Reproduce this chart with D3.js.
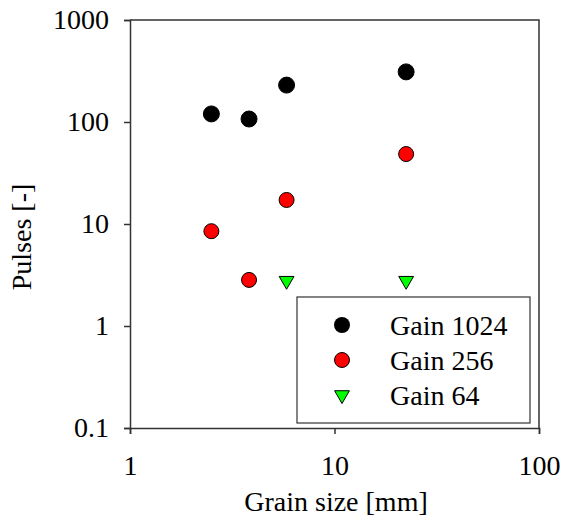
<!DOCTYPE html>
<html lang="en">
    <head>
        <meta charset="utf-8" />
        <title>Pulses vs grain size</title>
        <style>
            body { margin: 0; background: #fff; }
            svg text { font-family: "Liberation Serif", "Times New Roman", serif; fill: #000; }
            .axis path, .axis line { stroke: #333; stroke-width: 1.5; }
        </style>
        <script type="text/javascript" src="https://cdn.jsdelivr.net/npm/d3@7"></script>
    </head>
    <body>
        <script type="text/javascript">
            // values
            var grainSize = [2.5, 3.82, 5.83, 22.4];
            var gain1024 = [120, 107, 230, 310];
            var gain256 = [8.5, 2.83, 17.2, 48.5];
            var gain64Size = [5.83, 22.4];
            var gain64 = [2.78, 2.78];
            var xTicks = [1, 10, 100];
            var yTicks = [0.1, 1, 10, 100, 1000];
            var seriesNames = ['Gain 1024', 'Gain 256', 'Gain 64'];

            var width = 563,
                height = 526,
                plotLeft = 130, plotRight = 539, plotTop = 20, plotBottom = 428;

            var x = d3.scaleLog().domain([1, 100]).range([plotLeft, plotRight]);
            var y = d3.scaleLog().domain([0.1, 1000]).range([plotBottom, plotTop]);

            var svg = d3.select('body')
                        .append('svg')
                        .attr('width', width)
                        .attr('height', height);

            // frame (top and right without ticks)
            svg.append('path')
                .attr('d', 'M' + plotLeft + ',' + plotTop + 'H' + plotRight + 'V' + plotBottom)
                .attr('fill', 'none')
                .attr('stroke', '#333')
                .attr('stroke-width', 1.5);

            var xAxis = svg.append('g')
                .attr('class', 'axis')
                .attr('transform', 'translate(0,' + plotBottom + ')')
                .call(d3.axisBottom(x).tickValues(xTicks).tickFormat(d3.format('')).tickSizeOuter(0).tickSize(6).tickPadding(21));
            xAxis.selectAll('text').style('font-size', '28px');

            var yAxis = svg.append('g')
                .attr('class', 'axis')
                .attr('transform', 'translate(' + plotLeft + ',0)')
                .call(d3.axisLeft(y).tickValues(yTicks).tickFormat(function(d) { return d; }).tickSizeOuter(0).tickSize(6).tickPadding(15));
            yAxis.selectAll('text').style('font-size', '28px');

            svg.append('text')
                .attr('x', 336)
                .attr('y', 511)
                .attr('text-anchor', 'middle')
                .style('font-size', '28px')
                .text('Grain size [mm]');

            svg.append('text')
                .attr('transform', 'translate(31,237) rotate(-90)')
                .attr('text-anchor', 'middle')
                .style('font-size', '28px')
                .text('Pulses [-]');

            var tri = d3.symbol().type(d3.symbolTriangle).size(95);

            svg.append('g').selectAll('circle')
                .data(grainSize)
                .enter()
                .append('circle')
                .attr('cx', function(d) { return x(d); })
                .attr('cy', function(d, i) { return y(gain1024[i]); })
                .attr('r', 8)
                .attr('fill', '#000')
                .attr('stroke', '#000');

            svg.append('g').selectAll('circle')
                .data(grainSize)
                .enter()
                .append('circle')
                .attr('cx', function(d) { return x(d); })
                .attr('cy', function(d, i) { return y(gain256[i]); })
                .attr('r', 7.5)
                .attr('fill', '#ff0000')
                .attr('stroke', '#000')
                .attr('stroke-width', 1);

            svg.append('g').selectAll('path')
                .data(gain64Size)
                .enter()
                .append('path')
                .attr('d', tri)
                .attr('transform', function(d, i) {
                    return 'translate(' + x(d) + ',' + y(gain64[i]) + ') rotate(180)';
                })
                .attr('fill', '#00ff00')
                .attr('stroke', '#000')
                .attr('stroke-width', 1);

            // legend
            var lg = svg.append('g');
            lg.append('rect')
                .attr('x', 297).attr('y', 297)
                .attr('width', 233).attr('height', 126)
                .attr('fill', '#fff')
                .attr('stroke', '#333')
                .attr('stroke-width', 1.2);

            var rowY = [325, 360, 395];
            lg.append('circle').attr('cx', 342).attr('cy', rowY[0]).attr('r', 8).attr('fill', '#000');
            lg.append('circle').attr('cx', 342).attr('cy', rowY[1]).attr('r', 7.5)
                .attr('fill', '#ff0000').attr('stroke', '#000');
            lg.append('path').attr('d', tri)
                .attr('transform', 'translate(342,' + rowY[2] + ') rotate(180)')
                .attr('fill', '#00ff00').attr('stroke', '#000');

            lg.selectAll('text')
                .data(seriesNames)
                .enter()
                .append('text')
                .attr('x', 390)
                .attr('y', function(d, i) { return rowY[i]; })
                .attr('dy', '.35em')
                .style('font-size', '28px')
                .text(function(d) { return d; });
        </script>
    </body>
</html>
